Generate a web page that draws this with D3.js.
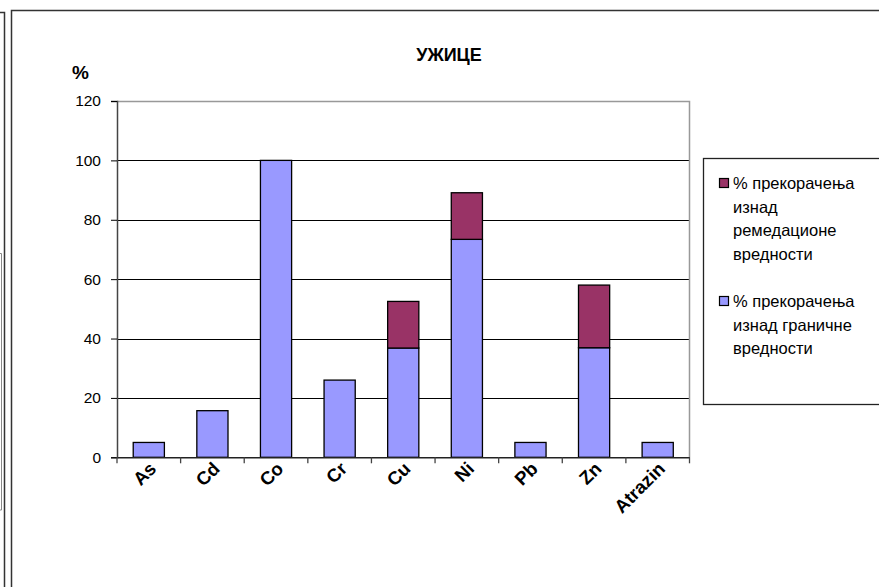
<!DOCTYPE html>
<html>
<head>
<meta charset="utf-8">
<script src="https://cdn.jsdelivr.net/npm/d3@7"></script>
<style>
  body { margin: 0; background: #fff; }
  svg { display: block; font-family: "Liberation Sans", Arial, sans-serif; }
</style>
</head>
<body>
<script>
// podaci
const categories = ["As", "Cd", "Co", "Cr", "Cu", "Ni", "Pb", "Zn", "Atrazin"];
const granicne = [5, 15.7, 100, 26, 36.8, 73.4, 5, 36.9, 5];
const remedacione = [0, 0, 0, 0, 15.7, 15.7, 0, 21.1, 0];
const yTicks = [0, 20, 40, 60, 80, 100, 120];

const W = 879, H = 587;
const plot = { left: 117, right: 689.5, top: 101, bottom: 457.3 };

const svg = d3.select("body").append("svg")
    .attr("width", W)
    .attr("height", H);

// ostaci susednog grafikona levo
svg.append("path")
    .attr("d", "M0,12.5 H4.5 V587")
    .attr("fill", "none")
    .attr("stroke", "#333")
    .attr("stroke-width", 1.5);
svg.append("path")
    .attr("d", "M0,253.5 H1.5 V510 H0")
    .attr("fill", "none")
    .attr("stroke", "#888")
    .attr("stroke-width", 1);

// okvir grafikona
svg.append("path")
    .attr("d", "M11.5,587 V10.5 H879")
    .attr("fill", "none")
    .attr("stroke", "#333")
    .attr("stroke-width", 1.5);

const x = d3.scaleBand()
    .domain(categories)
    .range([plot.left, plot.right]);

const y = d3.scaleLinear()
    .domain([0, 120])
    .range([plot.bottom, plot.top]);

// mreža
svg.append("g")
    .selectAll("line")
    .data(yTicks.filter(d => d > 0 && d < 120))
    .enter().append("line")
    .attr("x1", plot.left).attr("x2", plot.right)
    .attr("y1", d => Math.round(y(d)) + 0.5).attr("y2", d => Math.round(y(d)) + 0.5)
    .attr("stroke", "#000")
    .attr("stroke-width", 1);

// gornja i desna ivica
svg.append("path")
    .attr("d", `M${plot.left},${Math.round(plot.top) + 0.5} H${plot.right} V${plot.bottom}`)
    .attr("fill", "none")
    .attr("stroke", "#999")
    .attr("stroke-width", 1.5);

// stubići
const stack = d3.stack().keys([0, 1]).value((d, k) => d[k]);
const rows = categories.map((c, i) => [granicne[i], remedacione[i]]);
const layers = stack(rows);
const colors = ["#9999ff", "#993366"];
const barW = x.bandwidth() * 0.49;

layers.forEach((layer, li) => {
    svg.append("g")
        .selectAll("rect")
        .data(layer.map((d, i) => ({ d, c: categories[i] })).filter(o => o.d[1] - o.d[0] > 0))
        .enter().append("rect")
        .attr("x", o => x(o.c) + (x.bandwidth() - barW) / 2)
        .attr("width", barW)
        .attr("y", o => y(o.d[1]))
        .attr("height", o => y(o.d[0]) - y(o.d[1]))
        .attr("fill", colors[li])
        .attr("stroke", "#000")
        .attr("stroke-width", 1.3);
});

// y osa
const yAxis = svg.append("g")
    .attr("transform", `translate(${plot.left},0)`)
    .call(d3.axisLeft(y).tickValues(yTicks).tickSize(6).tickPadding(10));
yAxis.select(".domain").attr("stroke", "#444").attr("stroke-width", 1.5);
yAxis.selectAll(".tick line").attr("stroke", "#000");
yAxis.selectAll("text")
    .style("font-size", "15.5px")
    .style("font-family", "Liberation Sans, Arial, sans-serif")
    .attr("fill", "#000");

// x osa
const xAxis = svg.append("g")
    .attr("transform", `translate(0,${plot.bottom})`)
    .call(d3.axisBottom(x).tickSize(0).tickFormat(""));
xAxis.select(".domain").attr("stroke", "#222").attr("stroke-width", 1.5);
xAxis.selectAll(".tick").remove();

svg.append("g")
    .selectAll("line")
    .data(d3.range(categories.length + 1))
    .enter().append("line")
    .attr("x1", i => plot.left + i * x.step())
    .attr("x2", i => plot.left + i * x.step())
    .attr("y1", plot.bottom)
    .attr("y2", plot.bottom + 6)
    .attr("stroke", "#444")
    .attr("stroke-width", 1.3);

svg.append("g")
    .selectAll("text")
    .data(categories)
    .enter().append("text")
    .attr("transform", d => `translate(${x(d) + x.bandwidth() / 2 + 4},${plot.bottom + 8}) rotate(-45)`)
    .attr("text-anchor", "end")
    .attr("dy", "0.35em")
    .style("font-size", "18.5px")
    .style("font-weight", "bold")
    .text(d => d);

// naslov
svg.append("text")
    .attr("x", 449)
    .attr("y", 61)
    .attr("text-anchor", "middle")
    .style("font-size", "18px")
    .style("font-weight", "bold")
    .text("УЖИЦЕ");

svg.append("text")
    .attr("x", 72)
    .attr("y", 79)
    .style("font-size", "19px")
    .style("font-weight", "bold")
    .text("%");

// legenda
const legend = svg.append("g");
legend.append("rect")
    .attr("x", 703.5).attr("y", 158.5)
    .attr("width", 200).attr("height", 246)
    .attr("fill", "#fff")
    .attr("stroke", "#222")
    .attr("stroke-width", 1.3);

const legendItems = [
    { color: colors[1], lines: ["% прекорачења", "изнад", "ремедационе", "вредности"], y: 189 },
    { color: colors[0], lines: ["% прекорачења", "изнад граничне", "вредности"], y: 307 }
];
legendItems.forEach(item => {
    legend.append("rect")
        .attr("x", 719.5).attr("y", item.y - 10.5)
        .attr("width", 9).attr("height", 9)
        .attr("fill", item.color)
        .attr("stroke", "#000")
        .attr("stroke-width", 1.2);
    legend.append("text")
        .attr("x", 733)
        .attr("y", item.y)
        .style("font-size", "16.5px")
        .selectAll("tspan")
        .data(item.lines)
        .enter().append("tspan")
        .attr("x", 733)
        .attr("dy", (d, i) => i === 0 ? 0 : 23.5)
        .text(d => d);
});
</script>
</body>
</html>
